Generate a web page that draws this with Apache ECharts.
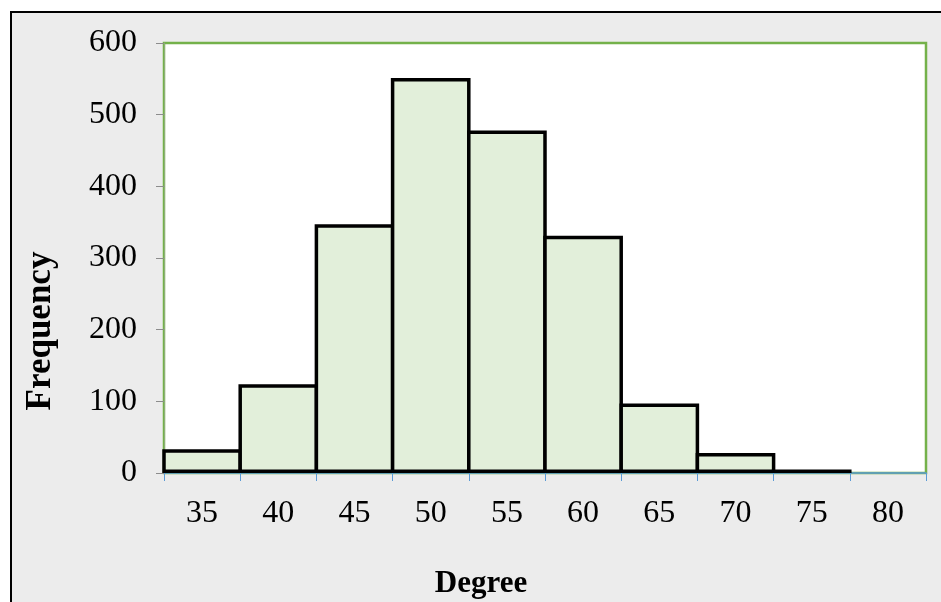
<!DOCTYPE html>
<html>
<head>
<meta charset="utf-8">
<script src="https://cdn.jsdelivr.net/npm/echarts@6/dist/echarts.min.js"></script>
<style>
  html, body { margin: 0; padding: 0; background: #ffffff; }
  #chart { width: 941px; height: 602px; }
</style>
</head>
<body>
<div id="chart"></div>
<script>
// Histogram bins (degree) and their frequencies
const degreeBins = ['35', '40', '45', '50', '55', '60', '65', '70', '75', '80'];
const frequency = [33, 124, 347, 551, 478, 331, 97, 28, 5, 0];
const yTicks = { min: 0, max: 600, step: 100 };

const serif = '"Liberation Serif", "Times New Roman", serif';

const W = 941, H = 602;
const gridBox = { left: 164, right: 15, top: 43, bottom: 129 };
const barBorder = 3.5;
// Bars touch each other; ECharts draws the border inside the bar, so widen
// each bar by one border width so neighbouring outlines merge into one line.
const binWidth = (W - gridBox.left - gridBox.right) / degreeBins.length;

const chart = echarts.init(document.getElementById('chart'), null, { renderer: 'canvas' });

chart.setOption({
  animation: false,
  backgroundColor: '#ffffff',
  graphic: [
    {
      type: 'rect',
      z: -10,
      shape: { x: 11, y: 12, width: 940, height: 600 },
      style: { fill: '#ececec', stroke: '#000000', lineWidth: 2 }
    },
    {
      type: 'text',
      x: 41, y: 331,
      rotation: Math.PI / 2,
      style: {
        text: 'Frequency',
        font: 'bold 35px ' + serif,
        fill: '#000000',
        align: 'center',
        verticalAlign: 'middle'
      }
    },
    {
      type: 'text',
      x: 481, y: 584,
      style: {
        text: 'Degree',
        font: 'bold 31px ' + serif,
        fill: '#000000',
        align: 'center',
        verticalAlign: 'middle'
      }
    }
  ],
  grid: Object.assign({}, gridBox, {
    show: true,
    backgroundColor: '#ffffff',
    borderColor: '#74b14a',
    borderWidth: 2.5
  }),
  xAxis: {
    type: 'category',
    data: degreeBins,
    boundaryGap: true,
    axisLine: { show: true, lineStyle: { color: '#5b9bd5', width: 1.5 } },
    axisTick: { show: true, length: 8, lineStyle: { color: '#5b9bd5', width: 1 } },
    axisLabel: { color: '#000000', fontFamily: serif, fontSize: 32, margin: 25 },
    splitLine: { show: false }
  },
  yAxis: {
    type: 'value',
    min: yTicks.min,
    max: yTicks.max,
    interval: yTicks.step,
    axisLine: { show: true, lineStyle: { color: '#8eae79', width: 1 } },
    axisTick: { show: true, length: 8, lineStyle: { color: '#8c8c8c', width: 1 } },
    axisLabel: { color: '#000000', fontFamily: serif, fontSize: 32, margin: 27 },
    splitLine: { show: false }
  },
  series: [{
    type: 'bar',
    barWidth: binWidth + barBorder,
    data: frequency.map(v => v === 0
      ? { value: v, itemStyle: { borderWidth: 0 } }
      : v),
    itemStyle: {
      color: '#e2efda',
      borderColor: '#000000',
      borderWidth: barBorder
    }
  }]
});
</script>
</body>
</html>
